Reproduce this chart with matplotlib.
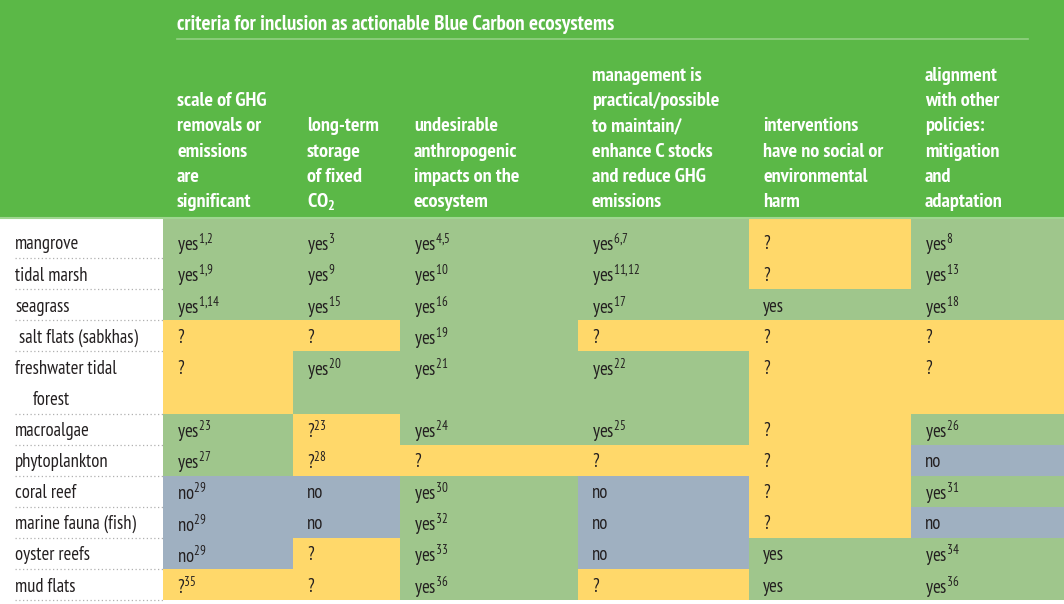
import matplotlib
matplotlib.use("Agg")
import matplotlib.pyplot as plt
from matplotlib.patches import Rectangle

plt.rcParams['font.family'] = ['PT Sans Narrow', 'DejaVu Sans']
plt.rcParams['mathtext.fontset'] = 'custom'
plt.rcParams['mathtext.rm'] = 'PT Sans Narrow'
plt.rcParams['mathtext.bf'] = 'PT Sans Narrow:bold'

title = "criteria for inclusion as actionable Blue Carbon ecosystems"

headers = [
    ["scale of GHG", "removals or", "emissions", "are", "significant"],
    ["long-term", "storage", "of fixed", "CO$_\\mathbf{2}$"],
    ["undesirable", "anthropogenic", "impacts on the", "ecosystem"],
    ["management is", "practical/possible", "to maintain/", "enhance C stocks",
     "and reduce GHG", "emissions"],
    ["interventions", "have no social or", "environmental", "harm"],
    ["alignment", "with other", "policies:", "mitigation", "and", "adaptation"],
]

ecosystems = ["mangrove", "tidal marsh", "seagrass", " salt flats (sabkhas)",
              "freshwater tidal", "macroalgae", "phytoplankton", "coral reef",
              "marine fauna (fish)", "oyster reefs", "mud flats"]
label_extra = {4: "forest"}
row_units = [1, 1, 1, 1, 2, 1, 1, 1, 1, 1, 1]

values = [
    ["yes", "yes", "yes", "yes", "?", "yes"],
    ["yes", "yes", "yes", "yes", "?", "yes"],
    ["yes", "yes", "yes", "yes", "yes", "yes"],
    ["?", "?", "yes", "?", "?", "?"],
    ["?", "yes", "yes", "yes", "?", "?"],
    ["yes", "?", "yes", "yes", "?", "yes"],
    ["yes", "?", "?", "?", "?", "no"],
    ["no", "no", "yes", "no", "?", "yes"],
    ["no", "no", "yes", "no", "?", "no"],
    ["no", "?", "yes", "no", "yes", "yes"],
    ["?", "?", "yes", "?", "yes", "yes"],
]

refs = [
    ["1,2", "3", "4,5", "6,7", "", "8"],
    ["1,9", "9", "10", "11,12", "", "13"],
    ["1,14", "15", "16", "17", "", "18"],
    ["", "", "19", "", "", ""],
    ["", "20", "21", "22", "", ""],
    ["23", "23", "24", "25", "", "26"],
    ["27", "28", "", "", "", ""],
    ["29", "", "30", "", "", "31"],
    ["29", "", "32", "", "", ""],
    ["29", "", "33", "", "", "34"],
    ["35", "", "36", "", "", "36"],
]

status_colors = {"yes": "#9fc68c", "?": "#ffd86a", "no": "#9fb0c1"}
header_green = "#5bb847"
ink = "#231f20"

col_edges = [163, 293, 400, 578, 749, 911, 1064]
pad = 14
table_top = 219
first_bottom = 258
unit_h = 31.1
fs = 13.4
hfs = 14.6

fig = plt.figure(figsize=(10.64, 6.04), dpi=100)
ax = fig.add_axes([0, 0, 1, 1])
ax.set_xlim(0, 1064)
ax.set_ylim(604, 0)
ax.axis("off")

# header band
ax.add_patch(Rectangle((0, 0), 1064, 217, color=header_green, lw=0))
ax.plot([0, 1064], [218, 218], color="#9fd690", lw=1.5)
ax.text(177, 24, title, color="white", fontsize=15.2, fontweight="bold",
        va="center", ha="left")
ax.plot([177, 1028], [39, 39], color="#93d184", lw=1.2)

line_gap = 25.2
for c, lines in enumerate(headers):
    x = col_edges[c] + pad
    n = len(lines)
    for i, ln in enumerate(lines):
        y = 202 - (n - 1 - i) * line_gap
        ax.text(x, y, ln, color="white", fontsize=hfs, fontweight="bold",
                va="center", ha="left")

# body
y_bot = table_top
for r, units in enumerate(row_units):
    y_top = y_bot
    y_bot = first_bottom if r == 0 else y_top + units * unit_h
    text_y = (y_top + unit_h / 2 if r > 0 else y_bot - unit_h / 2) + 2
    for c in range(6):
        v = values[r][c]
        x0, x1 = col_edges[c], col_edges[c + 1]
        ax.add_patch(Rectangle((x0, y_top), x1 - x0, y_bot - y_top,
                               facecolor=status_colors[v], edgecolor="none", lw=0))
        s = v
        if refs[r][c]:
            sup = refs[r][c].replace(",", "{,}")
            s = v + "$^{\\mathregular{" + sup + "}}$"
        ax.text(x0 + pad, text_y, s, color=ink, fontsize=fs,
                va="center", ha="left")
    ax.text(15, text_y, ecosystems[r], color=ink, fontsize=fs,
            va="center", ha="left")
    if r in label_extra:
        ax.text(33, text_y + unit_h, label_extra[r], color=ink,
                fontsize=fs, va="center", ha="left")
    ax.plot([15, 163], [y_bot, y_bot], color="#b0b0b0", lw=0.9,
            linestyle=(0, (1, 2)))

fig.savefig("out.png", dpi=100)
